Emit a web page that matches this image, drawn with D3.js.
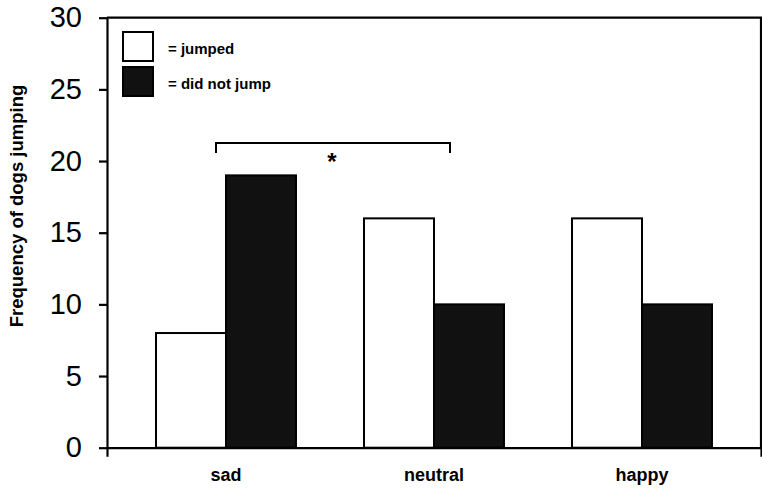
<!DOCTYPE html>
<html>
<head>
<meta charset="utf-8">
<script src="https://cdn.jsdelivr.net/npm/d3@7"></script>
<style>
  body { margin: 0; background: #fff; }
  svg { display: block; font-family: "Liberation Sans", Arial, sans-serif; }
</style>
</head>
<body>
<script>
//
// DATA
//
var moods = ["sad", "neutral", "happy"];
var series = ["jumped", "did not jump"];
var jumped = [8, 16, 16];
var did_not_jump = [19, 10, 10];
var y_ticks = [0, 5, 10, 15, 20, 25, 30];
var legend_labels = ["= jumped", "= did not jump"];
var signif = { from: "sad", to: "neutral", level: 21.25, label: "*" };

//
// LAYOUT
//
var W = 762, H = 489;
var plot_left = 107, plot_right = 761, plot_top = 17.7, plot_bottom = 447.7;
var fills = { "jumped": "#fff", "did not jump": "#111" };

var svg = d3.select("body").append("svg")
    .attr("width", W)
    .attr("height", H);

// scales
var y = d3.scaleLinear().domain([0, 30]).range([plot_bottom, plot_top]);
var x0 = d3.scaleBand().domain(moods).range([plot_left, plot_right])
    .paddingInner(0.327).paddingOuter(0.2356);
var x1 = d3.scaleBand().domain(series).range([0, x0.bandwidth()]);

// rows for the bars
var rows = moods.map(function (m, i) {
    return { mood: m, values: [
        { key: "jumped", value: jumped[i] },
        { key: "did not jump", value: did_not_jump[i] }
    ] };
});

// frame: top and right side
svg.append("path")
    .attr("d", "M" + plot_left + "," + plot_top + "H" + plot_right + "V" + plot_bottom)
    .attr("fill", "none")
    .attr("stroke", "#000")
    .attr("stroke-width", 2.2);

// bars
svg.append("g").selectAll("g")
    .data(rows)
    .join("g")
    .attr("transform", function (d) { return "translate(" + x0(d.mood) + ",0)"; })
    .selectAll("rect")
    .data(function (d) { return d.values; })
    .join("rect")
    .attr("x", function (d) { return x1(d.key); })
    .attr("y", function (d) { return y(d.value); })
    .attr("width", x1.bandwidth())
    .attr("height", function (d) { return y(0) - y(d.value); })
    .attr("fill", function (d) { return fills[d.key]; })
    .attr("stroke", "#000")
    .attr("stroke-width", 2);

// y axis
var yAxis = svg.append("g")
    .attr("transform", "translate(" + plot_left + ",0)")
    .call(d3.axisLeft(y).tickValues(y_ticks).tickSizeInner(8).tickSizeOuter(0).tickPadding(17));
yAxis.selectAll("path, line").attr("stroke", "#000").attr("stroke-width", 2.2);
yAxis.selectAll("text")
    .attr("font-size", 29)
    .attr("font-family", "Liberation Sans, Arial, sans-serif")
    .attr("fill", "#000");

// x axis
var xAxis = svg.append("g")
    .attr("transform", "translate(0," + plot_bottom + ")")
    .call(d3.axisBottom(x0).tickSizeInner(0).tickSizeOuter(9).tickPadding(21));
xAxis.selectAll("path, line").attr("stroke", "#000").attr("stroke-width", 2.2);
xAxis.selectAll("text")
    .attr("font-size", 18)
    .attr("font-weight", "bold")
    .attr("font-family", "Liberation Sans, Arial, sans-serif")
    .attr("fill", "#000");

// y axis title
svg.append("text")
    .attr("transform", "translate(23,206) rotate(-90)")
    .attr("text-anchor", "middle")
    .attr("font-size", 18.5)
    .attr("font-weight", "bold")
    .text("Frequency of dogs jumping");

// significance bracket
var bx1 = x0(signif.from) + x0.bandwidth() / 2 - 10;
var bx2 = x0(signif.to) + x0.bandwidth() / 2 + 16;
var by = y(signif.level);
svg.append("path")
    .attr("d", "M" + bx1 + "," + (by + 10) + "V" + by + "H" + bx2 + "V" + (by + 10))
    .attr("fill", "none")
    .attr("stroke", "#000")
    .attr("stroke-width", 2);
svg.append("text")
    .attr("x", (bx1 + bx2) / 2 - 1)
    .attr("y", by + 27)
    .attr("text-anchor", "middle")
    .attr("font-size", 24)
    .attr("font-weight", "bold")
    .text(signif.label);

// legend
var legend = svg.append("g").selectAll("g")
    .data(series)
    .join("g")
    .attr("transform", function (d, i) { return "translate(123," + (32 + i * 35) + ")"; });
legend.append("rect")
    .attr("width", 30)
    .attr("height", 29)
    .attr("fill", function (d) { return fills[d]; })
    .attr("stroke", "#000")
    .attr("stroke-width", 2);
legend.append("text")
    .attr("x", 45)
    .attr("y", 21.5)
    .attr("font-size", 15)
    .attr("font-weight", "bold")
    .text(function (d, i) { return legend_labels[i]; });
</script>
</body>
</html>
